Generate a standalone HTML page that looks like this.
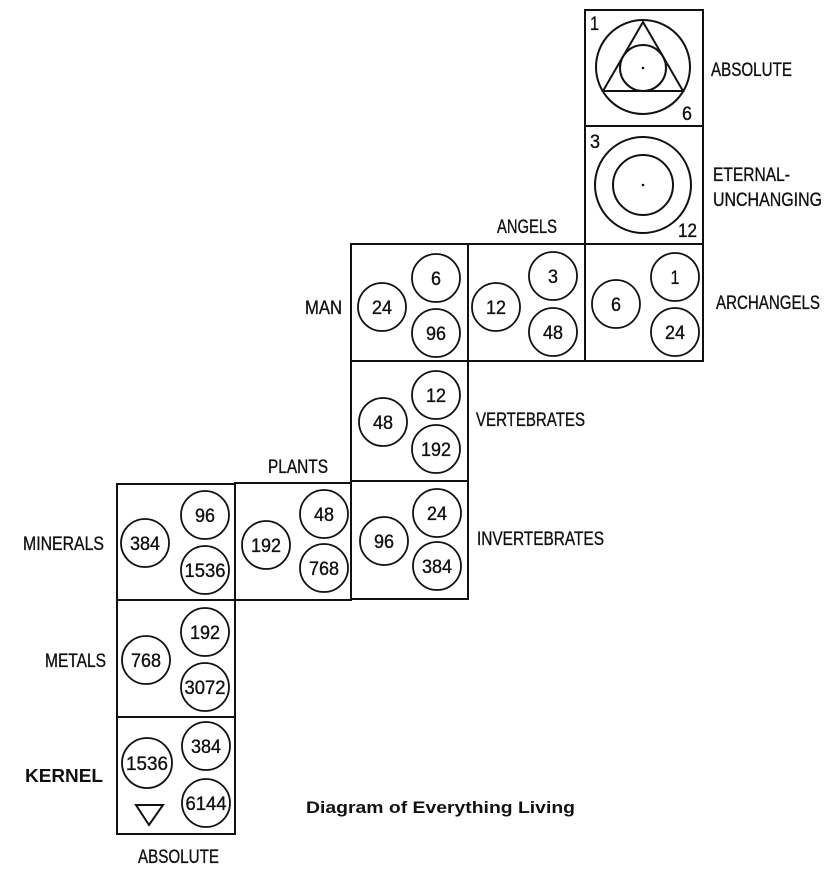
<!DOCTYPE html>
<html><head><meta charset="utf-8"><style>
html,body{margin:0;padding:0;background:#fff;}
svg{display:block;}
text{font-family:"Liberation Sans",sans-serif;fill:#111;stroke:#111;stroke-width:0.35;}
.l{font-size:19px;}
.n{font-size:19px;text-anchor:middle;}
.b{font-weight:bold;stroke-width:0;}
</style></head><body>
<svg width="833" height="873" viewBox="0 0 833 873" xmlns="http://www.w3.org/2000/svg">
<g fill="none" stroke="#111" stroke-width="2">
<rect x="585" y="10" width="118" height="116"/>
<rect x="585" y="126" width="118" height="118"/>
<rect x="585" y="244" width="118" height="117"/>
<rect x="468" y="244" width="117" height="117"/>
<rect x="351" y="244" width="117" height="117"/>
<rect x="351" y="361" width="117" height="120"/>
<rect x="351" y="481" width="117" height="118"/>
<rect x="235" y="483" width="116" height="117"/>
<rect x="117" y="484" width="118" height="116"/>
<rect x="117" y="600" width="118" height="117"/>
<rect x="117" y="717" width="118" height="117"/>
<circle cx="643" cy="67" r="47"/>
<polygon points="643,22 603,91 683,91"/>
<circle cx="643" cy="68" r="23"/>
<circle cx="643" cy="185" r="48"/>
<circle cx="643" cy="185" r="30"/>
<polygon points="136,805 163,805 149,825"/>
</g>
<circle cx="643" cy="68" r="1.3" fill="#111"/>
<circle cx="643" cy="185" r="1.3" fill="#111"/>
<text class="l" x="590" y="30" textLength="9" lengthAdjust="spacingAndGlyphs">1</text>
<text class="l" x="682" y="120" textLength="10" lengthAdjust="spacingAndGlyphs">6</text>
<text class="l" x="590" y="148" textLength="10" lengthAdjust="spacingAndGlyphs">3</text>
<text class="l" x="678" y="237" textLength="19" lengthAdjust="spacingAndGlyphs">12</text>
<g fill="none" stroke="#111" stroke-width="1.8">
<circle cx="616" cy="304" r="24"/><circle cx="675" cy="277" r="24"/><circle cx="675" cy="332" r="24"/>
<circle cx="496" cy="307" r="24"/><circle cx="553" cy="276" r="24"/><circle cx="553" cy="332" r="24"/>
<circle cx="382" cy="307" r="24"/><circle cx="436" cy="278" r="24"/><circle cx="436" cy="333" r="24"/>
<circle cx="383" cy="422" r="24"/><circle cx="436" cy="395" r="24"/><circle cx="436" cy="449" r="24"/>
<circle cx="384" cy="541" r="24"/><circle cx="437" cy="513" r="24"/><circle cx="437" cy="566" r="24"/>
<circle cx="266" cy="545" r="24"/><circle cx="324" cy="514" r="24"/><circle cx="324" cy="568" r="24"/>
<circle cx="145" cy="543" r="24"/><circle cx="205" cy="515" r="24"/><circle cx="205" cy="570" r="24"/>
<circle cx="146" cy="660" r="24"/><circle cx="205" cy="632" r="24"/><circle cx="205" cy="687" r="24"/>
<circle cx="147" cy="763" r="25"/><circle cx="206" cy="746" r="24"/><circle cx="206" cy="803" r="24"/>
</g>
<g>
<text class="n" x="616" y="311" textLength="10" lengthAdjust="spacingAndGlyphs">6</text><text class="n" x="675" y="284" textLength="9" lengthAdjust="spacingAndGlyphs">1</text><text class="n" x="675" y="339" textLength="20" lengthAdjust="spacingAndGlyphs">24</text>
<text class="n" x="496" y="314" textLength="20" lengthAdjust="spacingAndGlyphs">12</text><text class="n" x="553" y="283" textLength="10" lengthAdjust="spacingAndGlyphs">3</text><text class="n" x="553" y="339" textLength="20" lengthAdjust="spacingAndGlyphs">48</text>
<text class="n" x="382" y="314" textLength="20" lengthAdjust="spacingAndGlyphs">24</text><text class="n" x="436" y="285" textLength="10" lengthAdjust="spacingAndGlyphs">6</text><text class="n" x="436" y="340" textLength="20" lengthAdjust="spacingAndGlyphs">96</text>
<text class="n" x="383" y="429" textLength="20" lengthAdjust="spacingAndGlyphs">48</text><text class="n" x="436" y="402" textLength="20" lengthAdjust="spacingAndGlyphs">12</text><text class="n" x="436" y="456" textLength="30" lengthAdjust="spacingAndGlyphs">192</text>
<text class="n" x="384" y="548" textLength="20" lengthAdjust="spacingAndGlyphs">96</text><text class="n" x="437" y="520" textLength="20" lengthAdjust="spacingAndGlyphs">24</text><text class="n" x="437" y="573" textLength="30" lengthAdjust="spacingAndGlyphs">384</text>
<text class="n" x="266" y="552" textLength="30" lengthAdjust="spacingAndGlyphs">192</text><text class="n" x="324" y="521" textLength="20" lengthAdjust="spacingAndGlyphs">48</text><text class="n" x="324" y="575" textLength="30" lengthAdjust="spacingAndGlyphs">768</text>
<text class="n" x="145" y="550" textLength="30" lengthAdjust="spacingAndGlyphs">384</text><text class="n" x="205" y="522" textLength="20" lengthAdjust="spacingAndGlyphs">96</text><text class="n" x="205" y="577" textLength="41" lengthAdjust="spacingAndGlyphs">1536</text>
<text class="n" x="146" y="667" textLength="30" lengthAdjust="spacingAndGlyphs">768</text><text class="n" x="205" y="639" textLength="30" lengthAdjust="spacingAndGlyphs">192</text><text class="n" x="205" y="694" textLength="41" lengthAdjust="spacingAndGlyphs">3072</text>
<text class="n" x="147" y="770" textLength="42" lengthAdjust="spacingAndGlyphs">1536</text><text class="n" x="206" y="753" textLength="30" lengthAdjust="spacingAndGlyphs">384</text><text class="n" x="206" y="810" textLength="41" lengthAdjust="spacingAndGlyphs">6144</text>
</g>
<text class="l" x="711" y="76" textLength="81" lengthAdjust="spacingAndGlyphs">ABSOLUTE</text>
<text class="l" x="713" y="181" textLength="77" lengthAdjust="spacingAndGlyphs">ETERNAL-</text>
<text class="l" x="713" y="206" textLength="109" lengthAdjust="spacingAndGlyphs">UNCHANGING</text>
<text class="l" x="497" y="233" textLength="60" lengthAdjust="spacingAndGlyphs">ANGELS</text>
<text class="l" x="716" y="309" textLength="104" lengthAdjust="spacingAndGlyphs">ARCHANGELS</text>
<text class="l" x="305" y="314" textLength="37" lengthAdjust="spacingAndGlyphs">MAN</text>
<text class="l" x="476" y="426" textLength="109" lengthAdjust="spacingAndGlyphs">VERTEBRATES</text>
<text class="l" x="268" y="473" textLength="60" lengthAdjust="spacingAndGlyphs">PLANTS</text>
<text class="l" x="477" y="545" textLength="127" lengthAdjust="spacingAndGlyphs">INVERTEBRATES</text>
<text class="l" x="23" y="550" textLength="81" lengthAdjust="spacingAndGlyphs">MINERALS</text>
<text class="l" x="45" y="667" textLength="61" lengthAdjust="spacingAndGlyphs">METALS</text>
<text class="b" x="25" y="782" style="font-size:18px" textLength="78" lengthAdjust="spacingAndGlyphs">KERNEL</text>
<text class="l" x="138" y="863" textLength="81" lengthAdjust="spacingAndGlyphs">ABSOLUTE</text>
<text class="b" x="306" y="813" style="font-size:17px" textLength="269" lengthAdjust="spacingAndGlyphs">Diagram of Everything Living</text>
</svg>
</body></html>
